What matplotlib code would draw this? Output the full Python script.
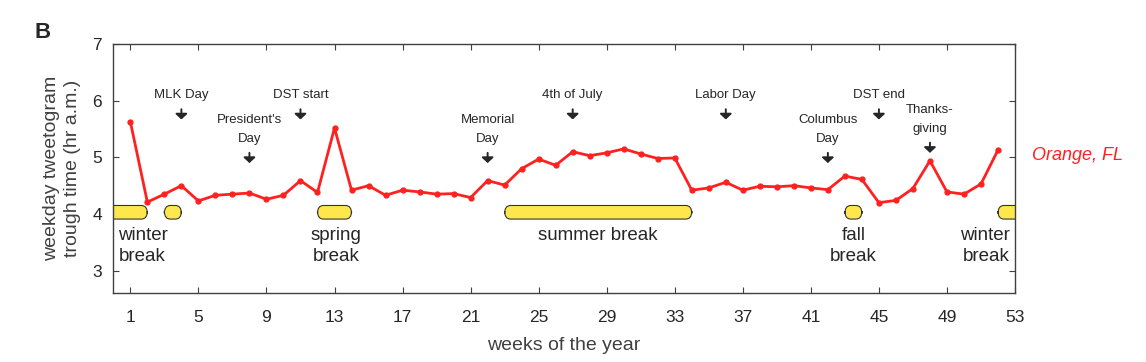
import numpy as np
import matplotlib.pyplot as plt
from matplotlib.patches import FancyBboxPatch

plt.rcParams['font.family'] = ['Liberation Sans', 'DejaVu Sans']

weeks = np.arange(1, 53)
trough = [5.63, 4.21, 4.35, 4.50, 4.23, 4.33, 4.35, 4.37, 4.26, 4.33,
          4.59, 4.38, 5.52, 4.42, 4.50, 4.33, 4.42, 4.39, 4.35, 4.36,
          4.29, 4.59, 4.51, 4.80, 4.97, 4.86, 5.10, 5.03, 5.08, 5.15,
          5.06, 4.98, 4.99, 4.42, 4.46, 4.56, 4.42, 4.49, 4.48, 4.50,
          4.46, 4.43, 4.67, 4.61, 4.20, 4.24, 4.45, 4.94, 4.39, 4.35,
          4.53, 5.13]

# school breaks (start week, end week)
breaks = [(-0.5, 2), (3, 4), (12, 14), (23, 34), (43, 44), (52, 54)]
break_labels = [('winter\nbreak', 0.3, 'left'), ('spring\nbreak', 13.1, 'center'),
                ('summer break', 28.5, 'center'), ('fall\nbreak', 43.5, 'center'),
                ('winter\nbreak', 52.7, 'right')]

# holidays: label, week, arrow height
holidays = [('MLK Day', 4, 5.77), ("President's\nDay", 8, 5.0), ('DST start', 11, 5.77),
            ('Memorial\nDay', 22, 5.0), ('4th of July', 27, 5.77), ('Labor Day', 36, 5.77),
            ('Columbus\nDay', 42, 5.0), ('DST end', 45, 5.77), ('Thanks-\ngiving', 48, 5.18)]

fig = plt.figure(figsize=(11.46, 3.62), dpi=100)
ax = fig.add_axes([0.0989, 0.19, 0.7868, 0.688])

txt = '#262626'
for s, e in breaks:
    ax.add_patch(FancyBboxPatch((s, 3.91), e - s, 0.24,
                                boxstyle='round,pad=0,rounding_size=0.35',
                                mutation_aspect=0.4,
                                fc='#fde74c', ec='#333333', lw=0.8, zorder=2))
for lab, x, ha in break_labels:
    ax.text(x, 3.77, lab, ha=ha, va='top', fontsize=13.5, color=txt, linespacing=1.3)

ax.plot(weeks, trough, '-o', color='#ff2020', lw=2, ms=3.5, zorder=3)

for lab, w, y in holidays:
    ax.annotate('', xy=(w, y - 0.1), xytext=(w, y + 0.08),
                arrowprops=dict(arrowstyle='-|>,head_width=0.35,head_length=0.32',
                                color='#262626', lw=1.4, shrinkA=0, shrinkB=0))
    ax.text(w, y + 0.22, lab, ha='center', va='bottom', fontsize=9.5,
            color=txt, linespacing=1.75)

ax.set_xlim(0, 53)
ax.set_ylim(2.6, 7)
ax.set_xticks(np.arange(1, 54, 4))
ax.set_yticks([3, 4, 5, 6, 7])
ax.tick_params(direction='in', top=True, right=True, length=4, width=0.8,
               labelsize=12.5, colors='#404040', labelcolor=txt)
ax.tick_params(axis='x', pad=12)
ax.tick_params(axis='y', pad=8)
for sp in ax.spines.values():
    sp.set_color('#404040')
    sp.set_linewidth(1.0)
ax.set_xlabel('weeks of the year', fontsize=14, color='#404040', labelpad=9)
ax.set_ylabel('weekday tweetogram\ntrough time (hr a.m.)', fontsize=14,
              color='#404040', labelpad=8, linespacing=1.3)

fig.text(1032 / 1146, 1 - 155 / 362, 'Orange, FL', color='#ff2020', fontsize=13,
         style='italic', va='center', ha='left')
fig.text(35 / 1146, 1 - 32 / 362, 'B', fontsize=16, fontweight='bold', color=txt,
         va='center', ha='left')

fig.savefig('out.png', dpi=100)
